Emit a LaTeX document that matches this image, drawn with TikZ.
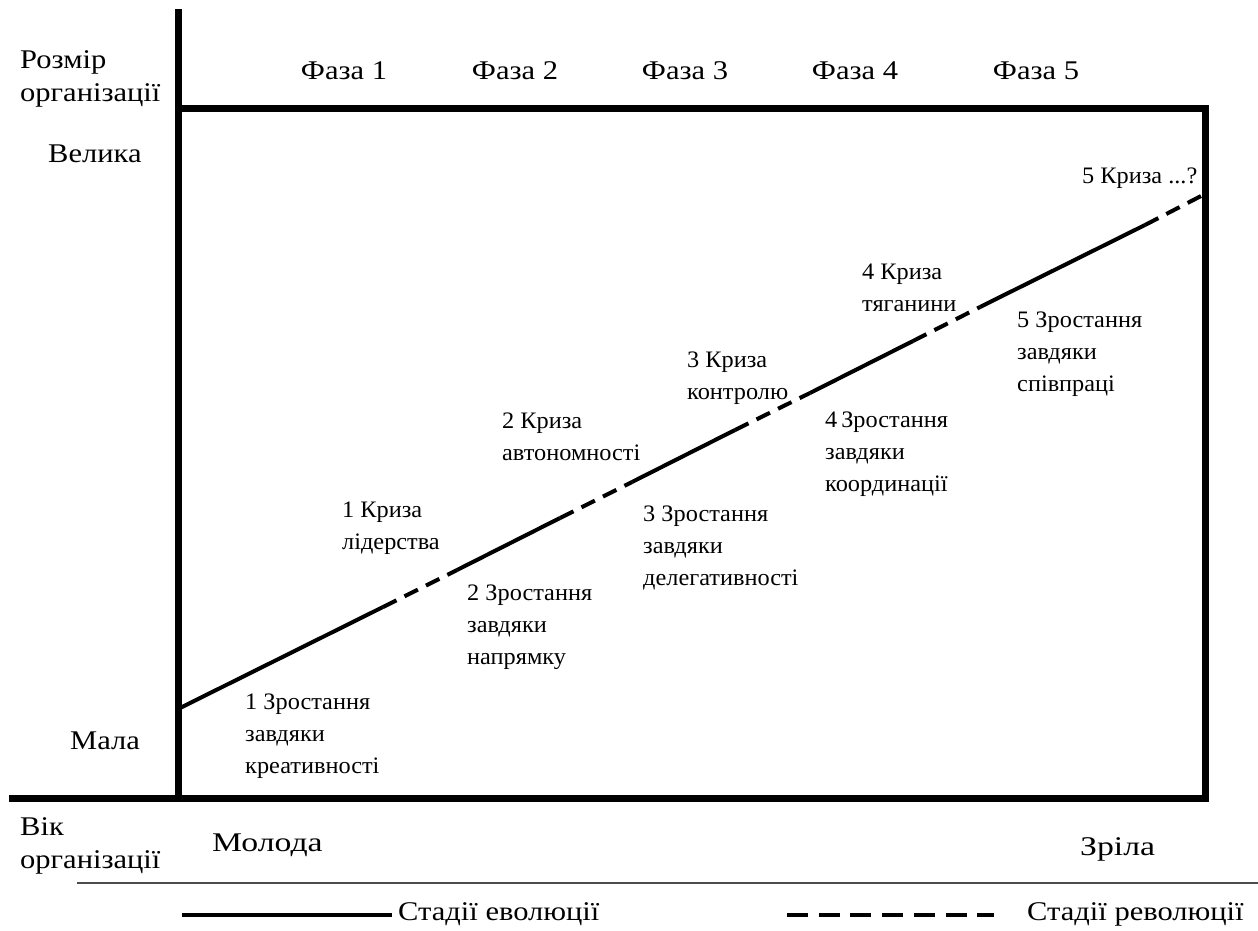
\documentclass[tikz,border=0pt]{standalone}
\usepackage{fontspec}
\setmainfont{Liberation Serif}
\newfontfamily\widefont{Liberation Serif}[FakeStretch=1.13]
\newfontfamily\widerfont{Liberation Serif}[FakeStretch=1.25]
\newfontfamily\stagefont{Liberation Serif}[FakeStretch=1.03]
\begin{document}
\begin{tikzpicture}[x=1pt,y=-1pt,
  axisline/.style={line width=7pt,line cap=rect},
  evol/.style={line width=4pt},
  revol/.style={line width=4pt,dash pattern=on 15pt off 9pt},
  biglabel/.style={inner sep=0pt,font=\widefont\fontsize{27}{33}\selectfont,align=left},
  agelabel/.style={inner sep=0pt,font=\widerfont\fontsize{27}{33}\selectfont,align=left},
  smalllabel/.style={inner sep=0pt,font=\stagefont\fontsize{23.6}{32}\selectfont,align=left}]
\useasboundingbox (0,0) rectangle (1258,930);

% frame and axes
\coordinate (ytop) at (178,12);
\coordinate (ybot) at (178,798);
\coordinate (tl) at (178,108);
\coordinate (tr) at (1205,108);
\coordinate (br) at (1205,798);
\coordinate (xleft) at (12,798);
\draw[axisline] (ytop) -- (ybot);
\draw[axisline] (tl) -- (tr) -- (br);
\draw[axisline] (xleft) -- (br);

% growth line: evolution (solid) and revolution (dashed) stages
\coordinate (p0) at (178,709);
\coordinate (p1) at (383,607);
\coordinate (p2) at (457,570);
\coordinate (p3) at (560,518);
\coordinate (p4) at (632,482);
\coordinate (p5) at (735,430);
\coordinate (p6) at (810,393);
\coordinate (p7) at (913,341);
\coordinate (p8) at (980,307);
\coordinate (p9) at (1145,225);
\coordinate (p10) at (1203,195);
\draw[evol] (p0) -- (p1);
\draw[revol] (p1) -- (p2);
\draw[evol] (p2) -- (p3);
\draw[revol] (p3) -- (p4);
\draw[evol] (p4) -- (p5);
\draw[revol] (p5) -- (p6);
\draw[evol] (p6) -- (p7);
\draw[revol] (p7) -- (p8);
\draw[evol] (p8) -- (p9);
\draw[revol] (p9) -- (p10);

% axis titles and scale labels
\node[biglabel,anchor=west] (size) at (20,79) {Розмір\\організації};
\node[biglabel,anchor=west] (big) at (48,154) {Велика};
\node[biglabel,anchor=west] (small) at (70,741) {Мала};
\node[biglabel,anchor=west] (age) at (20,846) {Вік\\організації};
\node[agelabel,anchor=west] (young) at (212,845) {Молода};
\node[agelabel,anchor=west] (mature) at (1080,849) {Зріла};

% phases
\node[biglabel] (f1) at (344,71) {Фаза 1};
\node[biglabel] (f2) at (515,71) {Фаза 2};
\node[biglabel] (f3) at (685,71) {Фаза 3};
\node[biglabel] (f4) at (855,71) {Фаза 4};
\node[biglabel] (f5) at (1036,71) {Фаза 5};

% evolution stages
\node[smalllabel,anchor=west] (g1) at (245,736) {1 Зростання\\завдяки\\креативності};
\node[smalllabel,anchor=west] (g2) at (467,627) {2 Зростання\\завдяки\\напрямку};
\node[smalllabel,anchor=west] (g3) at (643,548) {3 Зростання\\завдяки\\делегативності};
\node[smalllabel,anchor=west] (g4) at (825,454) {4\,Зростання\\завдяки\\координації};
\node[smalllabel,anchor=west] (g5) at (1017,354) {5 Зростання\\завдяки\\співпраці};

% revolution stages
\node[smalllabel,anchor=west] (c1) at (342,528) {1 Криза\\лідерства};
\node[smalllabel,anchor=west] (c2) at (502,437) {2 Криза\\автономності};
\node[smalllabel,anchor=west] (c3) at (687,378) {3 Криза\\контролю};
\node[smalllabel,anchor=west] (c4) at (862,288) {4 Криза\\тяганини};
\node[smalllabel,anchor=west] (c5) at (1082,178) {5 Криза ...?};

% legend
\coordinate (rule1) at (77,883);
\coordinate (rule2) at (1258,883);
\draw[line width=1.5pt,black!70] (rule1) -- (rule2);
\coordinate (ev1) at (182,915);
\coordinate (ev2) at (392,915);
\draw[evol] (ev1) -- (ev2);
\node[biglabel,anchor=west] (evtext) at (398,914) {Стадії еволюції};
\coordinate (rv1) at (787,915);
\coordinate (rv2) at (994,915);
\draw[line width=4.5pt,dash pattern=on 21pt off 10.7pt] (rv1) -- (rv2);
\node[biglabel,anchor=west] (rvtext) at (1027,914) {Стадії революції};
\end{tikzpicture}
\end{document}
